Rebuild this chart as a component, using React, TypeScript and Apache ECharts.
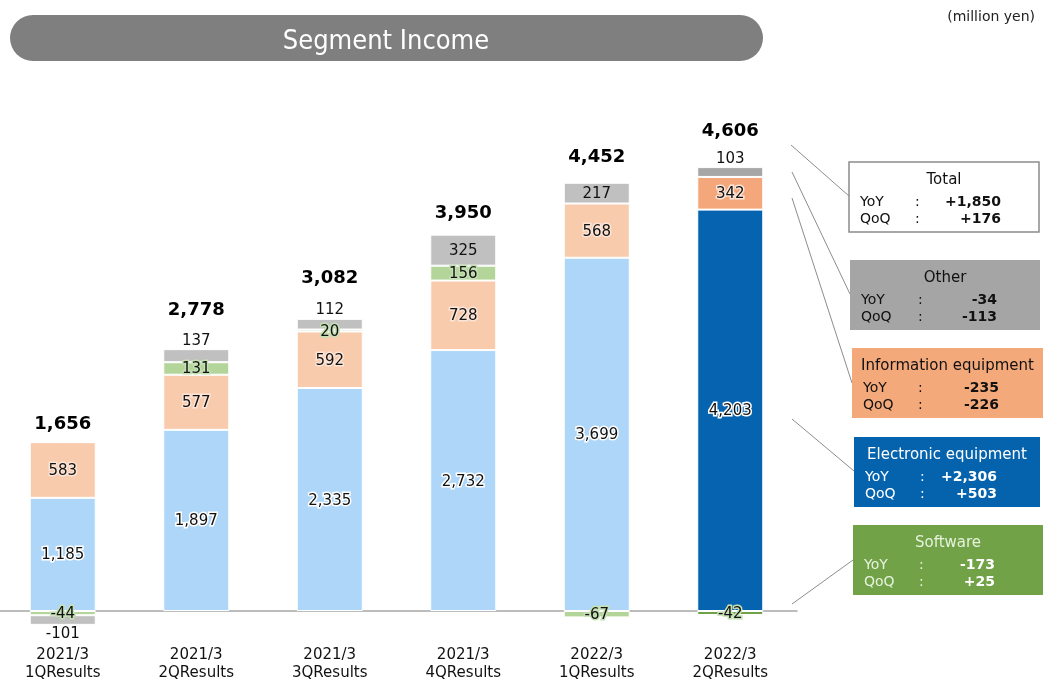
import React, { useEffect, useRef } from "react";
import * as echarts from "echarts";

const categories = [
  "2021/3\n1QResults",
  "2021/3\n2QResults",
  "2021/3\n3QResults",
  "2021/3\n4QResults",
  "2022/3\n1QResults",
  "2022/3\n2QResults",
];
const electronic = [1185, 1897, 2335, 2732, 3699, 4203];
const information = [583, 577, 592, 728, 568, 342];
const software = [-44, 131, 20, 156, -67, -42];
const other = [-101, 137, 112, 325, 217, 103];
const totals = [1656, 2778, 3082, 3950, 4452, 4606];

const boxNames = ["Total", "Other", "Information equipment", "Electronic equipment", "Software"];
const boxYoY = ["+1,850", "-34", "-235", "+2,306", "-173"];
const boxQoQ = ["+176", "-113", "-226", "+503", "+25"];

const FONT = "'DejaVu Sans', Verdana, sans-serif";

const lightColors = { elec: "#ADD6F8", info: "#F8CBAD", soft: "#B4D59A", other: "#C0C0C0" };
const darkColors = { elec: "#0563B0", info: "#F4A77A", soft: "#70A147", other: "#A6A6A6" };

function segData(values: number[], key: keyof typeof lightColors, labelOverrides?: (i: number) => any) {
  return values.map((v, i) => {
    const item: any = {
      value: v,
      itemStyle: { color: i === values.length - 1 ? darkColors[key] : lightColors[key] },
    };
    if (labelOverrides) {
      const o = labelOverrides(i);
      if (o) item.label = o;
    }
    return item;
  });
}

export default function App() {
  const ref = useRef<HTMLDivElement>(null);
  useEffect(() => {
    if (!ref.current) return;
    const chart = echarts.init(ref.current, undefined, { renderer: "svg" });

    const posTop = categories.map((_, i) =>
      [electronic[i], information[i], software[i], other[i]].filter((v) => v > 0).reduce((a, b) => a + b, 0)
    );
    const totalDist = [10, 31, 33, 14, 18, 28];

    const baseLabel = (glow: string) => ({
      show: true,
      position: "inside",
      color: "#111",
      fontSize: 15,
      fontFamily: FONT,
      textBorderColor: glow,
      textBorderWidth: 3,
      formatter: (p: any) => Number(p.value).toLocaleString("en-US"),
    });

    const otherPos = ["bottom", "top", "top", "inside", "inside", "top"];

    const boxes = [
      { x: 849, y: 162, w: 190, fill: "#FFFFFF", stroke: "#8C8C8C", title: "#111", lab: "#111", val: "#111", colon: 66, right: 152 },
      { x: 850, y: 260, w: 190, fill: "#A5A5A5", stroke: "none", title: "#111", lab: "#111", val: "#111", colon: 68, right: 147 },
      { x: 852, y: 348, w: 191, fill: "#F4A97B", stroke: "none", title: "#111", lab: "#111", val: "#111", colon: 66, right: 147 },
      { x: 854, y: 437, w: 186, fill: "#0563AE", stroke: "none", title: "#FFFFFF", lab: "#FFFFFF", val: "#FFFFFF", colon: 66, right: 143 },
      { x: 853, y: 525, w: 190, fill: "#71A247", stroke: "none", title: "#E6F2DC", lab: "#E6F2DC", val: "#FFFFFF", colon: 66, right: 142 },
    ];

    const graphics: any[] = [
      { type: "rect", shape: { x: 10, y: 15, width: 753, height: 46, r: 23 }, style: { fill: "#7F7F7F" } },
      {
        type: "text",
        x: 386,
        y: 39,
        style: {
          text: "Segment Income",
          fill: "#FFFFFF",
          fontSize: 27,
          fontFamily: "'DejaVu Sans Condensed', 'Liberation Sans Narrow', sans-serif",
          textAlign: "center",
          textVerticalAlign: "middle",
        },
      },
      {
        type: "text",
        x: 1035,
        y: 16,
        style: { text: "(million yen)", fill: "#222", fontSize: 14, fontFamily: FONT, textAlign: "right", textVerticalAlign: "middle" },
      },
    ];

    const connectors = [
      [791, 145, 849, 196],
      [792, 172, 850, 294],
      [792, 198, 852, 383],
      [792, 419, 854, 471],
      [792, 604, 853, 560],
    ];
    connectors.forEach((c) =>
      graphics.push({
        type: "line",
        shape: { x1: c[0], y1: c[1], x2: c[2], y2: c[3] },
        style: { stroke: "#8C8C8C", lineWidth: 1 },
      })
    );

    boxes.forEach((b, i) => {
      graphics.push({
        type: "rect",
        shape: { x: b.x, y: b.y, width: b.w, height: 70 },
        style: { fill: b.fill, stroke: b.stroke, lineWidth: 1.5 },
      });
      graphics.push({
        type: "text",
        x: b.x + b.w / 2,
        y: b.y + 17,
        style: { text: boxNames[i], fill: b.title, fontSize: 15, fontFamily: FONT, textAlign: "center", textVerticalAlign: "middle" },
      });
      [boxYoY, boxQoQ].forEach((arr, r) => {
        const yy = b.y + 39 + r * 17;
        graphics.push({
          type: "text",
          x: b.x + 11,
          y: yy,
          style: { text: r === 0 ? "YoY" : "QoQ", fill: b.lab, fontSize: 14, fontFamily: FONT, textVerticalAlign: "middle" },
        });
        graphics.push({
          type: "text",
          x: b.x + b.colon,
          y: yy,
          style: { text: ":", fill: b.lab, fontSize: 14, fontFamily: FONT, textVerticalAlign: "middle" },
        });
        graphics.push({
          type: "text",
          x: b.x + b.right,
          y: yy,
          style: {
            text: arr[i],
            fill: b.val,
            fontSize: 14,
            fontWeight: "bold",
            fontFamily: FONT,
            textAlign: "right",
            textVerticalAlign: "middle",
          },
        });
      });
    });

    chart.setOption({
      animation: false,
      grid: { left: -4, width: 801, top: 133.5, bottom: 28.25, containLabel: false, outerBoundsMode: "none" },
      xAxis: {
        type: "category",
        data: categories,
        axisTick: { show: false },
        axisLine: { lineStyle: { color: "#A6A6A6", width: 1.5 } },
        axisLabel: { color: "#111", fontSize: 15, fontFamily: FONT, lineHeight: 18, margin: -14, interval: 0 },
      },
      yAxis: { type: "value", min: -500, max: 5000, show: false, splitLine: { show: false } },
      series: [
        {
          name: "Electronic equipment",
          type: "bar",
          stack: "s",
          barWidth: 66,
          itemStyle: { borderColor: "#fff", borderWidth: 1 },
          label: baseLabel("#FFFFFF"),
          data: segData(electronic, "elec"),
        },
        {
          name: "Information equipment",
          type: "bar",
          stack: "s",
          barWidth: 66,
          itemStyle: { borderColor: "#fff", borderWidth: 1 },
          label: baseLabel("#FCE4D6"),
          data: segData(information, "info"),
        },
        {
          name: "Software",
          type: "bar",
          stack: "s",
          barWidth: 66,
          itemStyle: { borderColor: "#fff", borderWidth: 1 },
          label: baseLabel("#C5E0B4"),
          data: segData(software, "soft"),
        },
        {
          name: "Other",
          type: "bar",
          stack: "s",
          barWidth: 66,
          itemStyle: { borderColor: "#fff", borderWidth: 1 },
          label: { ...baseLabel("#FFFFFF"), textBorderWidth: 0 },
          data: segData(other, "other", (i) => ({ position: otherPos[i], distance: otherPos[i] === "top" ? 2 : 1 })),
        },
        {
          name: "Total",
          type: "scatter",
          symbolSize: 1,
          itemStyle: { color: "#ffffff", opacity: 1 },
          data: posTop.map((v, i) => ({
            value: [i, v],
            label: {
              show: true,
              position: "top",
              distance: totalDist[i],
              formatter: () => totals[i].toLocaleString("en-US"),
              fontSize: 18,
              fontWeight: "bold",
              color: "#000",
              opacity: 1,
              textBorderWidth: 0,
              fontFamily: FONT,
            },
          })),
        },
      ],
      graphic: graphics,
    });
    return () => chart.dispose();
  }, []);
  return <div ref={ref} style={{ position: "fixed", left: 0, top: 0, width: 1049, height: 687 }} />;
}
